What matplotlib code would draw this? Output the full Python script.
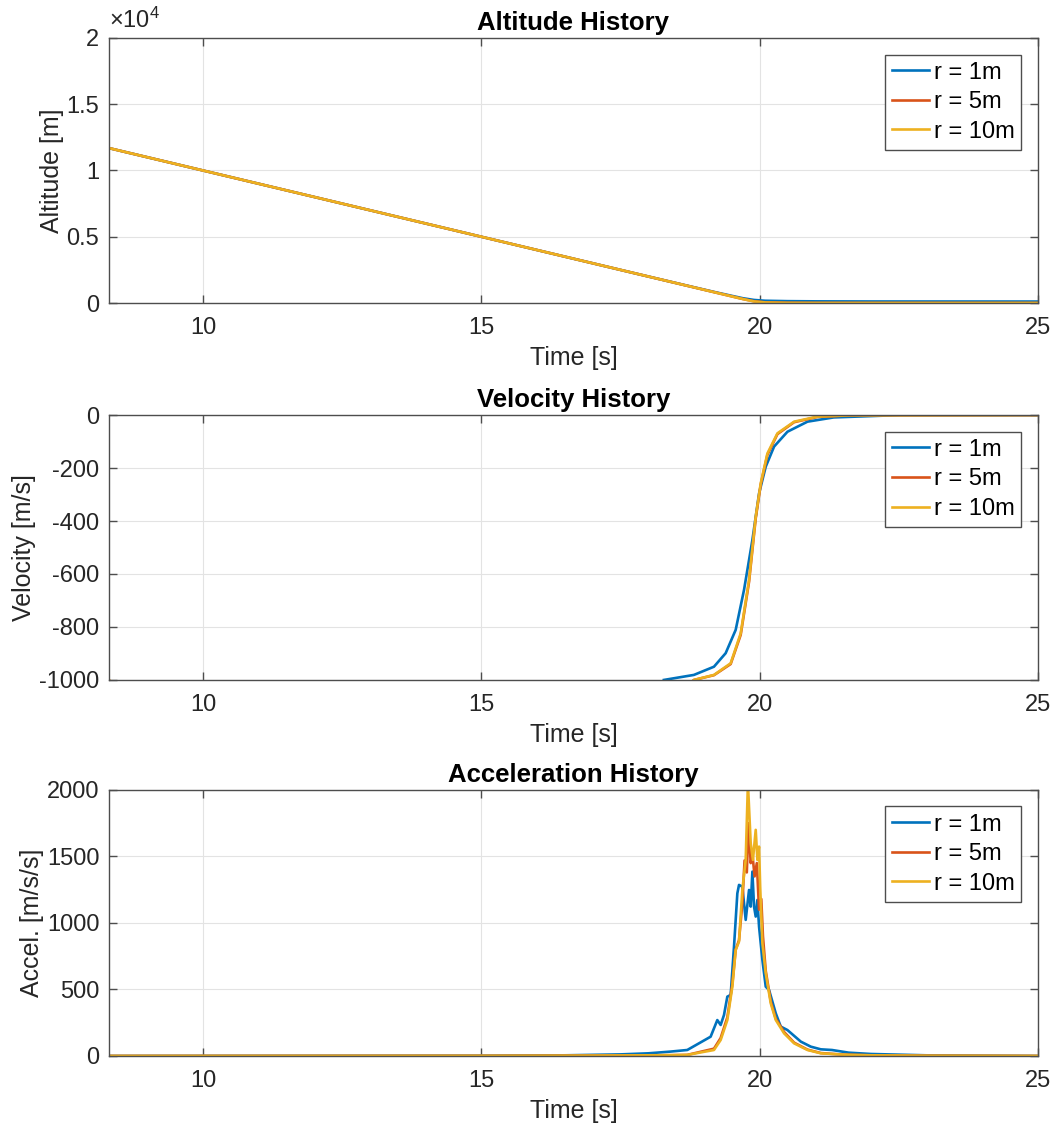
import numpy as np
import matplotlib
matplotlib.use('Agg')
import matplotlib.pyplot as plt

plt.rcParams['font.family'] = ['Liberation Sans', 'DejaVu Sans']
plt.rcParams['mathtext.fontset'] = 'custom'
plt.rcParams['mathtext.rm'] = 'Liberation Sans'

labels = ['r = 1m', 'r = 5m', 'r = 10m']
colors = ['#0072BD', '#D95319', '#EDB120']

# altitude [m]
alt_t = [8.31, 10, 15, 18, 18.8, 19.2, 19.5, 19.7, 19.9, 20.1, 20.5, 21, 22, 25]
alt_r1 = [11690, 10000, 5000, 2000, 1210, 820, 540, 360, 230, 170, 140, 125, 115, 110]
alt_r5 = [11690, 10000, 5000, 2000, 1200, 800, 500, 300, 130, 50, 15, 5, 2, 0]
alt_r10 = [11690, 10000, 5000, 2000, 1200, 800, 500, 300, 120, 40, 10, 2, 0, 0]

# velocity [m/s]
vel_t_r1 = [18.28, 18.82, 19.18, 19.39, 19.57, 19.72, 19.87, 19.99, 20.11, 20.26, 20.50, 20.86, 21.33, 22.53, 25]
vel_r1 = [-1000, -981, -950, -899, -811, -660, -472, -296, -195, -119, -63, -25, -9, 0, 0]
vel_t_r5 = [8.31, 8.4, 18.6, 18.82, 19.18, 19.48, 19.66, 19.81, 19.93, 20.02, 20.14, 20.32, 20.62, 21.04, 21.63, 25]
vel_r5 = [-1000, -1040, -1040, -1000, -982, -940, -830, -630, -390, -262, -150, -72, -27, -7, -1, 0]
vel_t_r10 = [8.31, 8.4, 18.6, 18.82, 19.18, 19.48, 19.66, 19.81, 19.93, 20.02, 20.14, 20.32, 20.62, 21.04, 21.63, 25]
vel_r10 = [-1000, -1040, -1040, -1000, -981, -937, -824, -623, -384, -258, -145, -69, -25, -6, -1, 0]

# acceleration [m/s/s]
acc_t_r1 = [8.31, 15, 16.5, 17.5, 18.0, 18.4, 18.7, 19.12, 19.24, 19.30, 19.36, 19.42, 19.48, 19.54,
            19.60, 19.63, 19.69, 19.75, 19.81, 19.84, 19.87, 19.90, 19.93, 19.96, 19.99, 20.05, 20.11,
            20.17, 20.29, 20.38, 20.50, 20.74, 20.92, 21.10, 21.3, 21.6, 22, 23, 24, 25]
acc_r1 = [0, 2, 5, 12, 20, 33, 45, 145, 270, 233, 308, 446, 459, 822,
          1223, 1286, 1273, 1023, 1248, 1123, 1386, 1123, 1048, 1173, 972, 722, 521,
          496, 321, 221, 195, 108, 70, 50, 45, 25, 15, 5, 2, 0]
acc_t_r5 = [8.31, 15, 17, 18, 18.4, 18.7, 19.18, 19.30, 19.42, 19.51, 19.57, 19.63, 19.69, 19.73,
            19.77, 19.80, 19.84, 19.87, 19.91, 19.95, 19.99, 20.03, 20.06, 20.11, 20.20, 20.29,
            20.44, 20.62, 20.86, 21.10, 21.5, 22, 23, 25]
acc_r5 = [0, 1, 3, 5, 6, 8, 55, 135, 290, 540, 800, 870, 1150, 1470,
          1380, 1750, 1450, 1520, 1350, 1450, 1100, 1180, 900, 640, 410, 280,
          180, 100, 48, 22, 10, 5, 2, 0]
acc_t_r10 = [8.31, 15, 17, 18, 18.4, 18.7, 19.18, 19.30, 19.42, 19.51, 19.57, 19.63, 19.69, 19.75,
             19.79, 19.84, 19.88, 19.93, 19.96, 19.99, 20.01, 20.05, 20.11, 20.20, 20.29,
             20.44, 20.62, 20.86, 21.10, 21.5, 22, 23, 25]
acc_r10 = [0, 1, 3, 5, 6, 8, 45, 120, 270, 521, 797, 860, 1248, 1474,
           2050, 1599, 1474, 1700, 1474, 1574, 1273, 847, 622, 396, 271,
           170, 95, 45, 20, 10, 5, 2, 0]

xlim = (8.31, 25)
xticks = [10, 15, 20, 25]

panels = [
    ('Altitude History', 'Altitude [m]', (0, 20000), [0, 5000, 10000, 15000, 20000],
     ['0', '0.5', '1', '1.5', '2'],
     [(alt_t, alt_r1), (alt_t, alt_r5), (alt_t, alt_r10)]),
    ('Velocity History', 'Velocity [m/s]', (-1000, 0), list(range(-1000, 1, 200)),
     ['-1000', '-800', '-600', '-400', '-200', '0'],
     [(vel_t_r1, vel_r1), (vel_t_r5, vel_r5), (vel_t_r10, vel_r10)]),
    ('Acceleration History', 'Accel. [m/s/s]', (0, 2000), [0, 500, 1000, 1500, 2000],
     ['0', '500', '1000', '1500', '2000'],
     [(acc_t_r1, acc_r1), (acc_t_r5, acc_r5), (acc_t_r10, acc_r10)]),
]

fig = plt.figure(figsize=(10.58, 11.34), dpi=100)
boxes = [(0.7328, 0.9665), (0.4004, 0.634), (0.0688, 0.3034)]
left, right = 0.103, 0.981

for (title, ylabel, ylim, yticks, yticklabels, series), (b, t) in zip(panels, boxes):
    ax = fig.add_axes([left, b, right - left, t - b])
    for (x, y), c, lab in zip(series, colors, labels):
        ax.plot(x, y, color=c, lw=1.9, label=lab)
    ax.set_xlim(xlim)
    ax.set_ylim(ylim)
    ax.set_xticks(xticks)
    ax.set_yticks(yticks)
    ax.set_yticklabels(yticklabels)
    ax.grid(True, color='#e3e3e3', lw=0.8)
    ax.set_axisbelow(True)
    for s in ax.spines.values():
        s.set_color('#4d4d4d')
        s.set_linewidth(1.0)
    ax.tick_params(direction='in', length=6, width=1, color='#4d4d4d',
                   labelsize=17, labelcolor='#262626', top=True, right=True)
    ax.tick_params(axis='x', pad=10)
    ax.tick_params(axis='y', pad=7)
    ax.set_title(title, fontsize=18.5, fontweight='bold', pad=6)
    ax.set_xlabel('Time [s]', fontsize=18, color='#262626', labelpad=5)
    ax.set_ylabel(ylabel, fontsize=18, color='#262626', labelpad=2)
    leg = ax.legend(loc='upper right', fontsize=17, frameon=True, fancybox=False,
                    handlelength=1.55, handletextpad=0.2, borderpad=0.3, labelspacing=0.32,
                    borderaxespad=0.7, edgecolor='#4d4d4d', framealpha=1.0)
    leg.get_frame().set_linewidth(1.0)
    if ylabel.startswith('Altitude'):
        ax.text(0.0, 1.02, r'$\times\mathregular{10^4}$', transform=ax.transAxes,
                fontsize=17, color='#262626', ha='left', va='bottom')

fig.savefig('out.png', dpi=100)
